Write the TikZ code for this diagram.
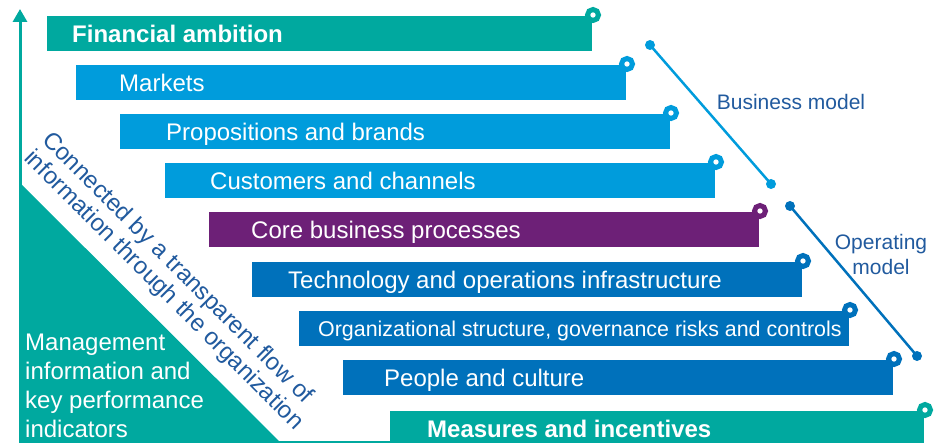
\documentclass[tikz,border=0pt]{standalone}
\usepackage{fontspec}
\setmainfont{Liberation Sans}
\usepackage{tikz}
\usetikzlibrary{arrows.meta}

\definecolor{kteal}{HTML}{00A99F}
\definecolor{kblue}{HTML}{009CDC}
\definecolor{kdblue}{HTML}{0071BB}
\definecolor{kpurple}{HTML}{6D2077}
\definecolor{ktext}{HTML}{215A9E}

\begin{document}
\begin{tikzpicture}[x=1pt, y=-1pt,
    font=\fontsize{24}{29}\selectfont,
    bar/.style={anchor=north west, minimum height=35, inner sep=0, outer sep=0},
    btext/.style={anchor=base west, text=white, inner sep=0, yshift=-8.6},
    boldtext/.style={font=\fontsize{24}{29}\selectfont\bfseries},
    ring/.style={draw=#1, line width=5, fill=white},
    flow/.style={rotate=-45, anchor=base west, inner sep=0, text=ktext},
    side/.style={text=ktext, inner sep=0, align=center, font=\fontsize{21}{25}\selectfont}]
    \useasboundingbox (0,0) rectangle (944,443);

    % 左侧三角形与纵轴
    \fill[kteal] (21,184) -- (21,443) -- (281,443) -- cycle;
    \coordinate (ax0) at (20,443);
    \coordinate (ax1) at (20,9);
    \coordinate (base0) at (20,442);
    \draw[kteal, line width=3, -{Triangle[width=14pt, length=13pt]}] (ax0) -- (ax1);

    % 各层横条
    \node[bar, fill=kteal, minimum width=545] (fin) at (47,16) {};
    \node[bar, fill=kblue, minimum width=550] (mkt) at (76,65) {};
    \node[bar, fill=kblue, minimum width=550] (prop) at (120,114) {};
    \node[bar, fill=kblue, minimum width=550] (cust) at (165,163) {};
    \node[bar, fill=kpurple, minimum width=550] (core) at (209,212) {};
    \node[bar, fill=kdblue, minimum width=550] (tech) at (252,262) {};
    \node[bar, fill=kdblue, minimum width=550] (org) at (299,311) {};
    \node[bar, fill=kdblue, minimum width=550] (ppl) at (343,360) {};
    \node[bar, fill=kteal, minimum width=534] (mea) at (390,411) {};
    \draw[kteal, line width=2] (base0) -- (base0 -| mea.west);

    % 横条文字
    \node[btext, boldtext] (fin-t) at ([xshift=25]fin.west) {Financial ambition};
    \node[btext] (mkt-t) at ([xshift=43]mkt.west) {Markets};
    \node[btext] (prop-t) at ([xshift=46]prop.west) {Propositions and brands};
    \node[btext] (cust-t) at ([xshift=45]cust.west) {Customers and channels};
    \node[btext] (core-t) at ([xshift=42]core.west) {Core business processes};
    \node[btext] (tech-t) at ([xshift=36]tech.west) {Technology and operations infrastructure};
    \node[btext, font=\fontsize{21.4}{25}\selectfont, yshift=1] (org-t) at ([xshift=19]org.west) {Organizational structure, governance risks and controls};
    \node[btext] (ppl-t) at ([xshift=41]ppl.west) {People and culture};
    \node[btext, boldtext] (mea-t) at ([xshift=37]mea.west) {Measures and incentives};

    % 右上角圆环
    \foreach \b/\c in {fin/kteal, mkt/kblue, prop/kblue, cust/kblue, core/kpurple,
                       tech/kdblue, org/kdblue, ppl/kdblue, mea/kteal}
        \draw[ring=\c] ([xshift=1, yshift=1]\b.north east) circle (5.5);

    % 右侧分组线
    \coordinate (bm0) at (650,45);
    \coordinate (bm1) at (771,184);
    \coordinate (om0) at (790,206);
    \coordinate (om1) at (917,356);
    \draw[kblue, line width=2.5] (bm0) -- (bm1);
    \draw[kdblue, line width=2.5] (om0) -- (om1);
    \fill[kblue] (bm0) circle (5) (bm1) circle (5);
    \fill[kdblue] (om0) circle (5) (om1) circle (5);
    \node[side] (bm-t) at (791,102) {Business model};
    \node[side] (om-t) at (881,254) {Operating\\model};

    % 三角形内外文字
    \node[flow] (flow1) at (41,141) {Connected by a transparent flow of};
    \node[flow] (flow2) at (23,159) {information through the organization};
    \node[anchor=north west, align=left, text=white, inner sep=0] (mi) at (25,334)
        {Management\\information and\\key performance\\indicators};
\end{tikzpicture}
\end{document}
